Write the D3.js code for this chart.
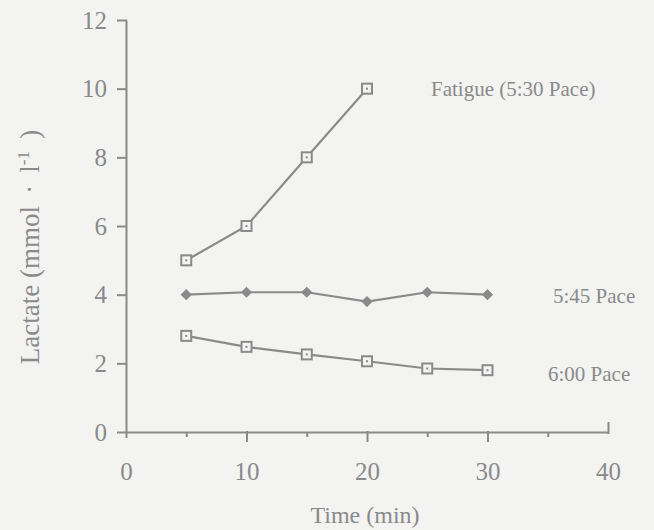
<!DOCTYPE html>
<html><head><meta charset="utf-8">
<script src="https://cdn.jsdelivr.net/npm/d3@7"></script>
<style>body{margin:0;background:#f3f3f2;}svg{display:block;}</style>
</head><body>
<svg id="chart" width="654" height="530"></svg>
<script>
const times = [5, 10, 15, 20, 25, 30];
const fatigue = [5.0, 6.0, 8.0, 10.0];
const pace545 = [4.0, 4.07, 4.07, 3.8, 4.07, 4.0];
const pace600 = [2.8, 2.48, 2.26, 2.06, 1.85, 1.8];
const xTicks = [0, 10, 20, 30, 40];
const xMinorTicks = [5, 15, 25, 35];
const yTicks = [0, 2, 4, 6, 8, 10, 12];
const seriesLabels = ["Fatigue (5:30 Pace)", "5:45 Pace", "6:00 Pace"];

const ink = "#8a8a8a";
const font = "'Liberation Serif','Times New Roman',serif";
const svg = d3.select("#chart");
svg.append("rect").attr("width",654).attr("height",530).attr("fill","#f3f3f2");

const x = d3.scaleLinear().domain([0,40]).range([126,608]);
const y = d3.scaleLinear().domain([0,12]).range([432,20]);

// axes
const xAxis = svg.append("g").attr("transform",`translate(0,${y(0)})`)
  .call(d3.axisBottom(x).tickValues(xTicks).tickSize(10).tickSizeOuter(0).tickPadding(20).tickFormat(d3.format("d")));
xAxis.selectAll(".tick line").attr("y1",-1);
xAxis.selectAll(".tick").filter(d=>d===40).select("line").attr("y1",-10).attr("y2",2);
xAxis.selectAll(".tick").filter(d=>d===0).select("line").attr("y1",0).attr("y2",6);
const xMinor = svg.append("g").attr("transform",`translate(0,${y(0)})`)
  .call(d3.axisBottom(x).tickValues(xMinorTicks).tickSize(5).tickFormat(""));
xMinor.select(".domain").remove();
const yAxis = svg.append("g").attr("transform",`translate(${x(0)},0)`)
  .call(d3.axisLeft(y).tickValues(yTicks).tickSize(9).tickSizeOuter(0).tickPadding(10).tickFormat(d3.format("d")));
yAxis.selectAll(".tick line").attr("x1",1);
[xAxis,xMinor,yAxis].forEach(g=>{
  g.selectAll("path,line").attr("stroke",ink).attr("stroke-width",2);
  g.selectAll("text").attr("fill",ink).attr("font-family",font).attr("font-size",25);
});

// axis titles
svg.append("text").attr("x",(x(0)+x(40))/2-2).attr("y",523).attr("text-anchor","middle")
  .attr("fill",ink).attr("font-family",font).attr("font-size",24).text("Time (min)");
const yl = svg.append("text").attr("transform","translate(39,247) rotate(-90)").attr("text-anchor","middle")
  .attr("fill",ink).attr("font-family",font).attr("font-size",27);
yl.append("tspan").text("Lactate (mmol\u2009 \u00B7 \u2009l");
yl.append("tspan").attr("dy",-10).attr("font-size",17).text("-1");
yl.append("tspan").attr("dy",10).text("\u2009 )");

const line = d3.line().x(d=>x(d[0])).y(d=>y(d[1]));
function drawSeries(vals, marker){
  const pts = vals.map((v,i)=>[times[i],v]);
  svg.append("path").attr("d",line(pts)).attr("fill","none").attr("stroke",ink).attr("stroke-width",2.2);
  const g = svg.append("g");
  pts.forEach(p=>{
    if(marker==="square"){
      g.append("rect").attr("x",x(p[0])-5).attr("y",y(p[1])-5).attr("width",10).attr("height",10)
        .attr("fill","#f3f3f2").attr("stroke",ink).attr("stroke-width",2);
      g.append("rect").attr("x",x(p[0])-1).attr("y",y(p[1])-1).attr("width",2).attr("height",2).attr("fill",ink);
    } else {
      g.append("path").attr("d",d3.symbol(d3.symbolDiamond2, 80)()).attr("transform",`translate(${x(p[0])},${y(p[1])})`)
        .attr("fill",ink);
    }
  });
}
drawSeries(fatigue,"square");
drawSeries(pace545,"diamond");
drawSeries(pace600,"square");

const lab = [[431, 9.8], [553, 3.77], [548, 1.5]];
seriesLabels.forEach((t,i)=>{
  svg.append("text").attr("x",lab[i][0]).attr("y",y(lab[i][1])).attr("fill",ink)
    .attr("font-family",font).attr("font-size",21).text(t);
});
</script>
</body></html>
